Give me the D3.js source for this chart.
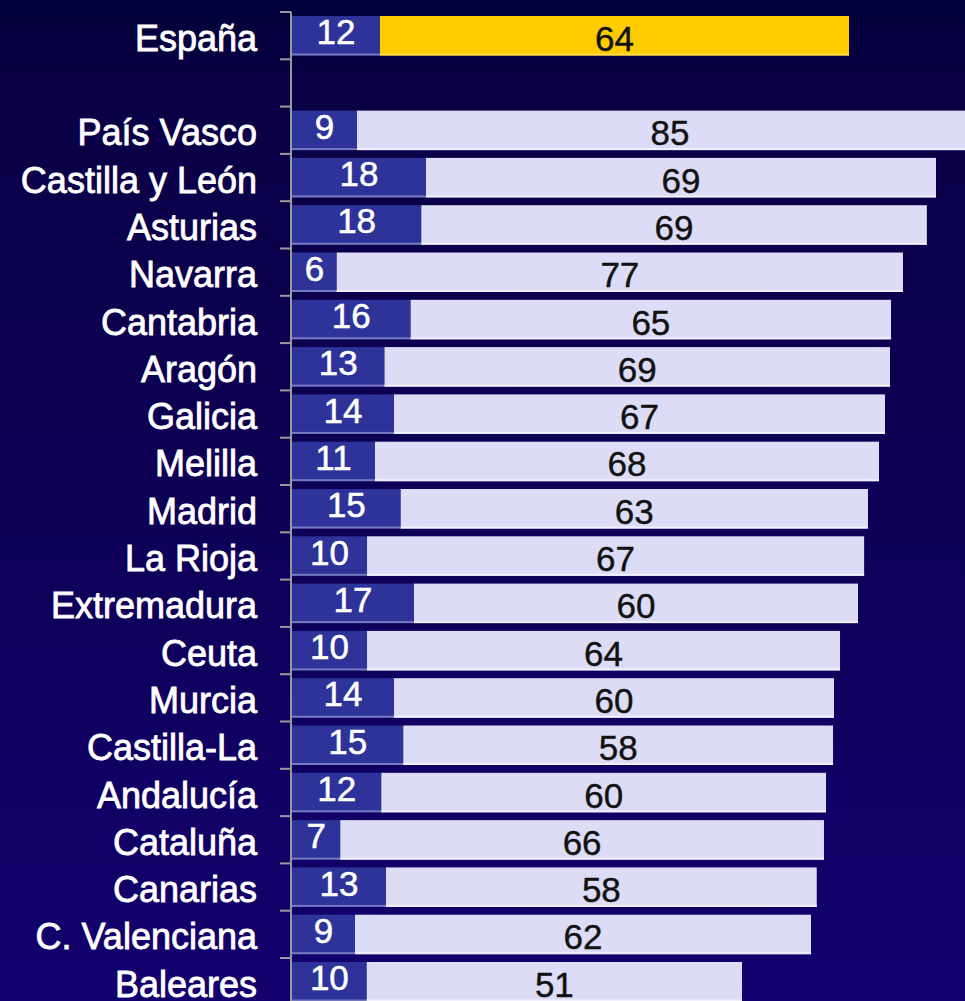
<!DOCTYPE html>
<html>
<head>
<meta charset="utf-8">
<script src="https://cdn.jsdelivr.net/npm/d3@7"></script>
<style>
  html, body { margin: 0; padding: 0; background: #0c0050; overflow: hidden; }
  #chart { width: 965px; height: 1001px; }
</style>
</head>
<body>
<div id="chart"></div>
<script>
// rows top to bottom, "" is the empty gap row under España
const regiones = ["España", "", "País Vasco", "Castilla y León", "Asturias", "Navarra", "Cantabria",
  "Aragón", "Galicia", "Melilla", "Madrid", "La Rioja", "Extremadura", "Ceuta", "Murcia",
  "Castilla-La", "Andalucía", "Cataluña", "Canarias", "C. Valenciana", "Baleares"];
// first (dark) segment
const serie1 = [11.94, null, 8.82, 18.18, 17.54, 6.07, 16.1, 12.55, 13.84, 11.26, 14.75, 10.18,
  16.55, 10.18, 13.84, 15.1, 12.12, 6.55, 12.75, 8.55, 10.14];
// second (light) segment
const serie2 = [63.64, null, 84.94, 69.2, 68.6, 76.83, 65.18, 68.59, 66.62, 68.39, 63.4, 67.45,
  60.25, 64.18, 59.7, 58.31, 60.34, 65.63, 58.45, 61.87, 50.92];

const parent = d3.select('#chart');
const width = 965, height = 1001;
const svg = parent.append('svg').attr('width', width).attr('height', height);

const grad = svg.append('defs').append('linearGradient')
  .attr('id', 'bg').attr('x1', 0).attr('y1', 0).attr('x2', 0).attr('y2', 1);
grad.append('stop').attr('offset', '0%').attr('stop-color', '#000038');
grad.append('stop').attr('offset', '8%').attr('stop-color', '#0a0044');
grad.append('stop').attr('offset', '50%').attr('stop-color', '#0e0056');
grad.append('stop').attr('offset', '100%').attr('stop-color', '#13006e');
svg.append('rect').attr('width', width).attr('height', height).attr('fill', 'url(#bg)');

const x = d3.scaleLinear().domain([0, 100]).range([292, 1029]);
const y = d3.scaleBand().domain(d3.range(regiones.length)).range([12, 12 + 47.3 * regiones.length]);
const barTop = 4, barH = 39.5;

const rows = regiones.map((r, i) => ({ r, i, a: serie1[i], b: serie2[i] }));
const conDatos = rows.filter(d => d.a != null);

// dark segment
svg.selectAll('rect.s1').data(conDatos).join('rect')
  .attr('x', x(0)).attr('y', d => y(d.i) + barTop)
  .attr('width', d => x(d.a) - x(0)).attr('height', barH)
  .attr('fill', '#2e3399');
svg.selectAll('rect.s1b').data(conDatos).join('rect')
  .attr('x', x(0)).attr('y', d => y(d.i) + barTop + barH - 2)
  .attr('width', d => x(d.a) - x(0)).attr('height', 2)
  .attr('fill', '#7479c0');

// light segment (yellow for España)
svg.selectAll('rect.s2').data(conDatos).join('rect')
  .attr('x', d => x(d.a)).attr('y', d => y(d.i) + barTop)
  .attr('width', d => x(d.a + d.b) - x(d.a)).attr('height', barH)
  .attr('fill', d => d.i === 0 ? '#ffcc00' : '#dcdcf6');
svg.selectAll('rect.s2b').data(conDatos).join('rect')
  .attr('x', d => x(d.a)).attr('y', d => y(d.i) + barTop + barH - 2)
  .attr('width', d => x(d.a + d.b) - x(d.a)).attr('height', 2)
  .attr('fill', d => d.i === 0 ? '#ffdb4d' : '#f0f0ff');

// axis line + ticks at band edges
svg.append('line')
  .attr('x1', 291).attr('x2', 291).attr('y1', y(0)).attr('y2', height)
  .attr('stroke', '#9a9a9a').attr('stroke-width', 2);
svg.selectAll('line.tick').data(y.domain()).join('line')
  .attr('x1', 280).attr('x2', 291).attr('y1', d => y(d)).attr('y2', d => y(d))
  .attr('stroke', '#9a9a9a').attr('stroke-width', 2);

const font = "'Liberation Sans', Arial, sans-serif";
const mid = d => y(d.i) + barTop + barH / 2;

// region names
svg.selectAll('text.cat').data(rows.filter(d => d.r)).join('text')
  .attr('x', 257).attr('y', d => mid(d) + 15)
  .attr('text-anchor', 'end')
  .attr('fill', '#ffffff').attr('stroke', '#ffffff').attr('stroke-width', 0.8)
  .style('font-family', font).style('font-size', '36px')
  .text(d => d.r);

// values
svg.selectAll('text.v1').data(conDatos).join('text')
  .attr('x', d => (x(0) + x(d.a)) / 2).attr('y', d => mid(d) + 8.5)
  .attr('text-anchor', 'middle').attr('fill', '#ffffff')
  .attr('stroke', '#ffffff').attr('stroke-width', 0.5)
  .style('font-family', font).style('font-size', '35px')
  .text(d => Math.round(d.a));
svg.selectAll('text.v2').data(conDatos).join('text')
  .attr('x', d => (x(d.a) + x(d.a + d.b)) / 2).attr('y', d => mid(d) + 15)
  .attr('text-anchor', 'middle').attr('fill', '#111111')
  .attr('stroke', '#111111').attr('stroke-width', 0.4)
  .style('font-family', font).style('font-size', '35px')
  .text(d => Math.round(d.b));
</script>
</body>
</html>
